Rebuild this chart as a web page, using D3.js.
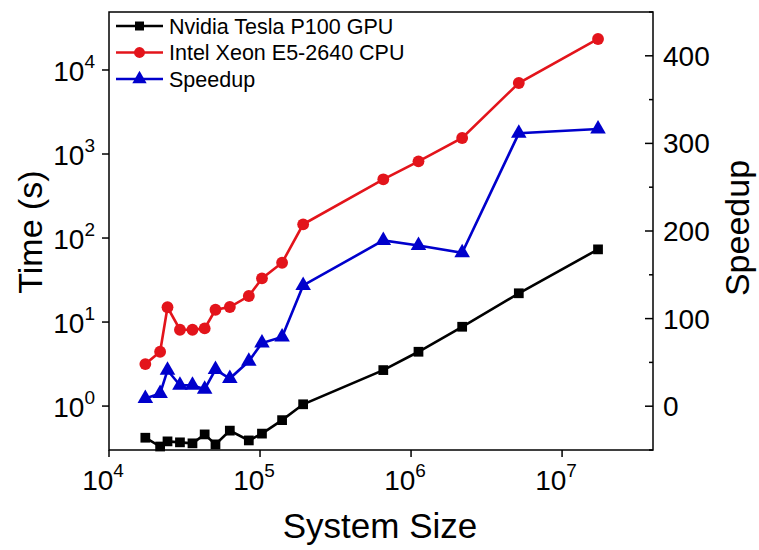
<!DOCTYPE html>
<html>
<head>
<meta charset="utf-8">
<script src="https://cdn.jsdelivr.net/npm/d3@7"></script>
<style>
  body { margin: 0; background: #fff; }
  svg { font-family: 'Liberation Sans', Arial, sans-serif; }
</style>
</head>
<body>
<script>
// system sizes (x) and measured values
const sizes = [17400, 21800, 24400, 29500, 35700, 43000, 50700, 63100, 84300, 103000,
  140000, 193000, 655000, 1120000, 2180000, 5170000, 17300000]
const gpuTime = [0.42, 0.33, 0.38, 0.37, 0.36, 0.46, 0.35, 0.51, 0.39, 0.47,
  0.68, 1.05, 2.68, 4.43, 8.79, 22.0, 73.3]
const cpuTime = [3.16, 4.43, 15.0, 8.1, 8.1, 8.4, 14.0, 15.1, 20.4, 33.1,
  50.8, 145.6, 500, 818, 1550, 7000, 23400]
const speedup = [8.8, 14.5, 41, 23.9, 23.9, 19.4, 41.8, 31.6, 51.3, 72.1,
  79, 137.9, 189.2, 183.5, 175.2, 311.5, 316.5]

const xTicks = [1e4, 1e5, 1e6, 1e7]
const yTicks = [1, 10, 100, 1000, 10000]
const speedTicks = [0, 100, 200, 300, 400]
const speedMinor = [-50, 50, 150, 250, 350, 450]

const seriesNames = ['Nvidia Tesla P100 GPU', 'Intel Xeon E5-2640 CPU', 'Speedup']
const colors = ['#000000', '#e3141b', '#0000cc']

const w = 759
const h = 550
const pL = 109, pR = 653, pT = 12, pB = 450

const x = d3.scaleLog().domain([1e4, 4.0e7]).range([pL, pR])
const y = d3.scaleLog().domain([0.3, 49000]).range([pB, pT])
const y2 = d3.scaleLinear().domain([-50, 450]).range([pB, pT])

const svg = d3.select('body').append('svg')
  .attr('width', w)
  .attr('height', h)

// frame
svg.append('rect')
  .attr('x', pL).attr('y', pT)
  .attr('width', pR - pL).attr('height', pB - pT)
  .attr('fill', 'none')
  .attr('stroke', '#000')
  .attr('stroke-width', 1.5)

// power-of-ten label
function pow10(sel, v) {
  const e = Math.round(Math.log10(v))
  sel.text('10')
  sel.append('tspan').attr('dy', -13).attr('font-size', 19).text(e)
}

// x axis
const xAxis = svg.append('g').attr('id', 'x-axis')
xAxis.selectAll('line').data(xTicks).enter().append('line')
  .attr('x1', d => x(d)).attr('x2', d => x(d))
  .attr('y1', pB).attr('y2', pB + 7)
  .attr('stroke', '#000').attr('stroke-width', 1.5)
xAxis.selectAll('text').data(xTicks).enter().append('text')
  .attr('x', d => x(d) - 6)
  .attr('y', pB + 40)
  .attr('text-anchor', 'middle')
  .attr('font-size', 28)
  .each(function (d) { pow10(d3.select(this), d) })

// left y axis
const yAxis = svg.append('g').attr('id', 'y-axis')
yAxis.selectAll('line').data(yTicks).enter().append('line')
  .attr('x1', pL - 7).attr('x2', pL)
  .attr('y1', d => y(d)).attr('y2', d => y(d))
  .attr('stroke', '#000').attr('stroke-width', 1.5)
yAxis.selectAll('text').data(yTicks).enter().append('text')
  .attr('x', pL - 14)
  .attr('y', d => y(d) + 11)
  .attr('text-anchor', 'end')
  .attr('font-size', 28)
  .each(function (d) { pow10(d3.select(this), d) })

// right y axis (speedup), ticks point inside
const y2Axis = svg.append('g').attr('id', 'y2-axis')
y2Axis.selectAll('line.major').data(speedTicks).enter().append('line')
  .attr('class', 'major')
  .attr('x1', pR - 8).attr('x2', pR)
  .attr('y1', d => y2(d)).attr('y2', d => y2(d))
  .attr('stroke', '#000').attr('stroke-width', 1.5)
y2Axis.selectAll('line.minor').data(speedMinor).enter().append('line')
  .attr('class', 'minor')
  .attr('x1', pR - 4).attr('x2', pR)
  .attr('y1', d => y2(d)).attr('y2', d => y2(d))
  .attr('stroke', '#000').attr('stroke-width', 1.5)
y2Axis.selectAll('text').data(speedTicks).enter().append('text')
  .attr('x', pR + 10)
  .attr('y', d => y2(d) + 10)
  .attr('font-size', 28)
  .text(d => d)

// axis titles
svg.append('text')
  .attr('x', (pL + pR) / 2 - 1)
  .attr('y', 538)
  .attr('text-anchor', 'middle')
  .attr('font-size', 35)
  .text('System Size')

svg.append('text')
  .attr('transform', 'translate(42,232) rotate(-90)')
  .attr('text-anchor', 'middle')
  .attr('font-size', 34)
  .text('Time (s)')

svg.append('text')
  .attr('transform', 'translate(749,228) rotate(-90)')
  .attr('text-anchor', 'middle')
  .attr('font-size', 34)
  .text('Speedup')

// markers
const symbols = [d3.symbolSquare, d3.symbolCircle, d3.symbolTriangle]
const symSize = [95, 110, 105]

function drawSeries(values, ys, i) {
  const pts = sizes.map((s, k) => [x(s), ys(values[k])])
  svg.append('path')
    .attr('d', d3.line()(pts))
    .attr('fill', 'none')
    .attr('stroke', colors[i])
    .attr('stroke-width', 2.6)
  svg.append('g').selectAll('path').data(pts).enter().append('path')
    .attr('d', d3.symbol().type(symbols[i]).size(symSize[i]))
    .attr('transform', d => `translate(${d[0]},${d[1]})`)
    .attr('fill', colors[i])
}

drawSeries(gpuTime, y, 0)
drawSeries(cpuTime, y, 1)
drawSeries(speedup, y2, 2)

// legend
const legend = svg.append('g').attr('id', 'legend')
const legendY = [26, 52.5, 79]
seriesNames.forEach((name, i) => {
  legend.append('line')
    .attr('x1', 116).attr('x2', 163)
    .attr('y1', legendY[i]).attr('y2', legendY[i])
    .attr('stroke', colors[i]).attr('stroke-width', 2.6)
  legend.append('path')
    .attr('d', d3.symbol().type(symbols[i]).size(symSize[i] * 0.85))
    .attr('transform', `translate(139.5,${legendY[i]})`)
    .attr('fill', colors[i])
  legend.append('text')
    .attr('x', 169)
    .attr('y', legendY[i] + 7.5)
    .attr('font-size', 21.5)
    .text(name)
})
</script>
</body>
</html>
